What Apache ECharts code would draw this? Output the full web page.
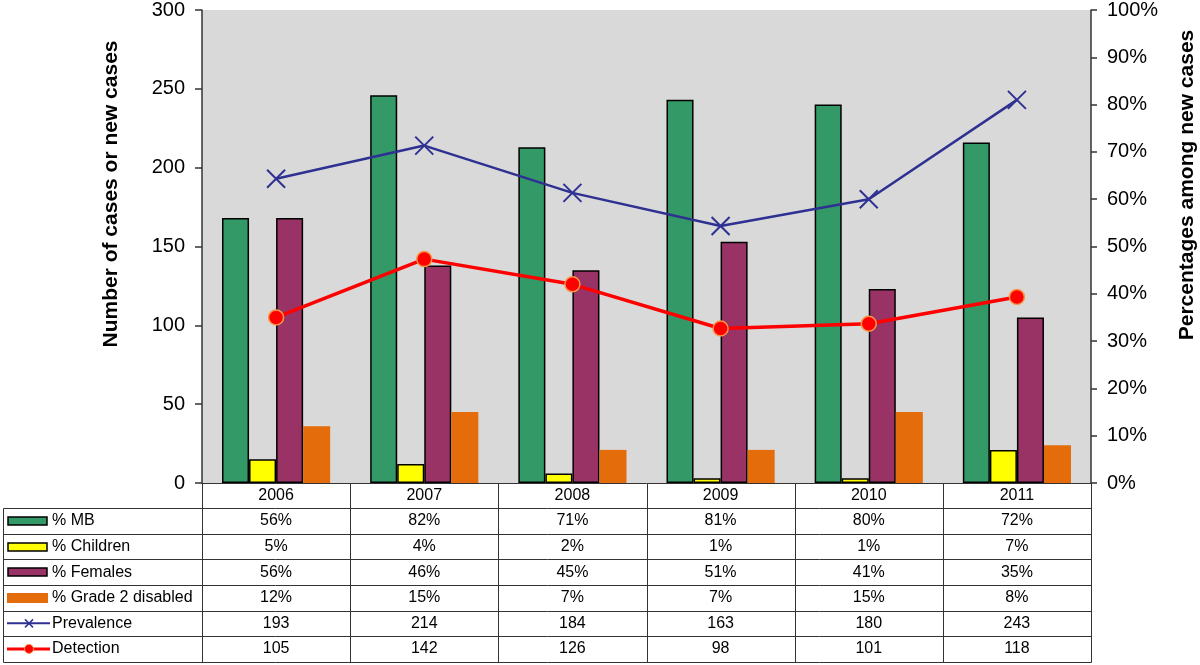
<!DOCTYPE html>
<html>
<head>
<meta charset="utf-8">
<script src="https://cdn.jsdelivr.net/npm/echarts@6/dist/echarts.min.js"></script>
<style>
html,body{margin:0;padding:0;background:#fff;}
#chart{width:1200px;height:665px;}
</style>
</head>
<body>
<div id="chart"></div>
<script>
// ---- data ----
const years = ['2006', '2007', '2008', '2009', '2010', '2011'];
const pctMB = [0.56, 0.82, 0.71, 0.81, 0.80, 0.72];
const pctChildren = [0.05, 0.04, 0.02, 0.01, 0.01, 0.07];
const pctFemales = [0.56, 0.46, 0.45, 0.51, 0.41, 0.35];
const pctGrade2 = [0.12, 0.15, 0.07, 0.07, 0.15, 0.08];
const prevalence = [193, 214, 184, 163, 180, 243];
const detection = [105, 142, 126, 98, 101, 118];
const leftTicks = [0, 300, 50];     // min, max, interval
const rightTicks = [0, 1, 0.1];

// ---- layout ----
const W = 1200, H = 665;
const L = 202, R = 1091, T = 8, B = 483;
const TL = 3, rowTop = 508.3, rowH = 25.57;
const FONT = '"Liberation Sans", Arial, sans-serif';
const colors = {
  mb: '#339966', ch: '#FFFF00', fe: '#993366', g2: '#E46C0A',
  prev: '#2E3192', det: '#FF0000', detBorder: '#F79646'
};

const chart = echarts.init(document.getElementById('chart'), null, {renderer: 'canvas'});

const pctFmt = v => Math.round(v * 100) + '%';
const rows = [
  {name: '% MB', kind: 'bar', color: colors.mb, border: true, data: pctMB, fmt: pctFmt},
  {name: '% Children', kind: 'bar', color: colors.ch, border: true, data: pctChildren, fmt: pctFmt},
  {name: '% Females', kind: 'bar', color: colors.fe, border: true, data: pctFemales, fmt: pctFmt},
  {name: '% Grade 2 disabled', kind: 'bar', color: colors.g2, border: false, data: pctGrade2, fmt: pctFmt},
  {name: 'Prevalence', kind: 'x', color: colors.prev, data: prevalence, fmt: v => String(v)},
  {name: 'Detection', kind: 'dot', color: colors.det, data: detection, fmt: v => String(v)}
];

const graphics = [];
const cw = (R - L) / years.length;
const px = v => Math.round(v) + 0.5;
const lineStyle = {stroke: '#333', lineWidth: 1};
const bottomY = rowTop + rows.length * rowH;

// vertical table lines
graphics.push({type: 'line', shape: {x1: px(TL), y1: px(rowTop), x2: px(TL), y2: px(bottomY)}, style: lineStyle});
for (let i = 0; i <= years.length; i++) {
  const x = px(L + i * cw);
  graphics.push({type: 'line', shape: {x1: x, y1: B, x2: x, y2: px(bottomY)}, style: lineStyle});
}
// horizontal table lines
for (let k = 0; k <= rows.length; k++) {
  const y = px(rowTop + k * rowH);
  graphics.push({type: 'line', shape: {x1: px(TL), y1: y, x2: px(R), y2: y}, style: lineStyle});
}
// cells
rows.forEach((r, ri) => {
  const cy = rowTop + (ri + 0.5) * rowH;
  // legend key
  if (r.kind === 'bar') {
    if (r.border) {
      graphics.push({type: 'rect', shape: {x: 8, y: Math.round(cy) - 4, width: 39, height: 8},
        style: {fill: r.color, stroke: '#000', lineWidth: 1.5}});
    } else {
      graphics.push({type: 'rect', shape: {x: 7, y: Math.round(cy) - 5, width: 41, height: 10},
        style: {fill: r.color}});
    }
  } else {
    graphics.push({type: 'line', shape: {x1: 7, y1: cy, x2: 50, y2: cy},
      style: {stroke: r.color, lineWidth: r.kind === 'x' ? 2 : 3}});
    if (r.kind === 'x') {
      graphics.push({type: 'line', shape: {x1: 25, y1: cy - 4, x2: 33, y2: cy + 4}, style: {stroke: r.color, lineWidth: 1.5}});
      graphics.push({type: 'line', shape: {x1: 25, y1: cy + 4, x2: 33, y2: cy - 4}, style: {stroke: r.color, lineWidth: 1.5}});
    } else {
      graphics.push({type: 'circle', shape: {cx: 29, cy: cy, r: 4.5}, style: {fill: r.color, stroke: colors.detBorder, lineWidth: 1}});
    }
  }
  graphics.push({type: 'text', style: {text: r.name, x: 52, y: cy, textAlign: 'left', textVerticalAlign: 'middle',
    font: '16px ' + FONT, fill: '#000'}});
  r.data.forEach((v, ci) => {
    graphics.push({type: 'text', style: {text: r.fmt(v), x: L + (ci + 0.5) * cw, y: cy,
      textAlign: 'center', textVerticalAlign: 'middle', font: '16px ' + FONT, fill: '#000'}});
  });
});
// axis titles
graphics.push({type: 'text', x: 111, y: 194, rotation: Math.PI / 2,
  style: {text: 'Number of cases or new cases', x: 0, y: 0, textAlign: 'center', textVerticalAlign: 'middle',
    font: 'bold 21px ' + FONT, fill: '#000'}});
graphics.push({type: 'text', x: 1187, y: 185, rotation: Math.PI / 2,
  style: {text: 'Percentages among new cases', x: 0, y: 0, textAlign: 'center', textVerticalAlign: 'middle',
    font: 'bold 21px ' + FONT, fill: '#000'}});

const barSeries = (name, data, color, border) => ({
  name, type: 'bar', yAxisIndex: 1, data,
  barGap: '0%', barCategoryGap: '27%',
  itemStyle: {color, borderColor: border ? '#000' : color, borderWidth: border ? 1.5 : 0},
  z: 2
});

chart.setOption({
  animation: false,
  backgroundColor: '#fff',
  textStyle: {fontFamily: FONT},
  grid: {left: L, right: W - R, top: T, bottom: H - B, show: true, backgroundColor: '#D9D9D9', borderWidth: 0},
  xAxis: {
    type: 'category', data: years,
    axisLine: {lineStyle: {color: '#333', width: 1}},
    axisTick: {show: false},
    axisLabel: {fontSize: 16, color: '#000', margin: 5, fontFamily: FONT},
    splitLine: {show: false}
  },
  yAxis: [
    {
      type: 'value', min: leftTicks[0], max: leftTicks[1], interval: leftTicks[2], position: 'left',
      axisLine: {show: true, lineStyle: {color: '#333', width: 1.5}},
      axisTick: {show: true, length: 7, lineStyle: {color: '#333', width: 1.5}},
      axisLabel: {fontSize: 20, color: '#000', margin: 17, fontFamily: FONT},
      splitLine: {show: false}
    },
    {
      type: 'value', min: rightTicks[0], max: rightTicks[1], interval: rightTicks[2], position: 'right',
      axisLine: {show: true, lineStyle: {color: '#333', width: 1.5}},
      axisTick: {show: true, length: 6, lineStyle: {color: '#333', width: 1.5}},
      axisLabel: {fontSize: 20, color: '#000', margin: 16, fontFamily: FONT, formatter: v => Math.round(v * 100) + '%'},
      splitLine: {show: false}
    }
  ],
  series: [
    barSeries('% MB', pctMB, colors.mb, true),
    barSeries('% Children', pctChildren, colors.ch, true),
    barSeries('% Females', pctFemales, colors.fe, true),
    barSeries('% Grade 2 disabled', pctGrade2, colors.g2, false),
    {
      name: 'Prevalence', type: 'line', yAxisIndex: 0, data: prevalence, z: 5,
      symbol: 'path://M0,0L10,10M0,10L10,0', symbolSize: 18,
      lineStyle: {color: colors.prev, width: 2.5},
      itemStyle: {color: colors.prev, borderColor: colors.prev, borderWidth: 2}
    },
    {
      name: 'Detection', type: 'line', yAxisIndex: 0, data: detection, z: 6,
      symbol: 'circle', symbolSize: 15,
      lineStyle: {color: colors.det, width: 3.5},
      itemStyle: {color: colors.det, borderColor: colors.detBorder, borderWidth: 1.5}
    }
  ],
  graphic: graphics
});
</script>
</body>
</html>
